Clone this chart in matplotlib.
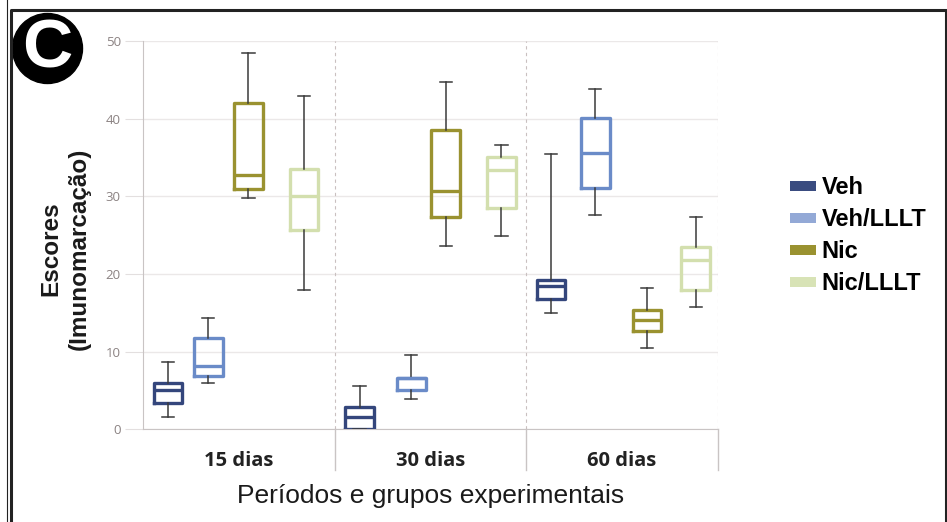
import matplotlib.pyplot as plt
from matplotlib.lines import Line2D
from matplotlib.patches import Patch, Circle

# dados: [mín, Q1, mediana, Q3, máx]
periodos = ['15 dias', '30 dias', '60 dias']
grupos = ['Veh', 'Veh/LLLT', 'Nic', 'Nic/LLLT']

veh = [[1.5, 3.3, 5.0, 5.9, 8.7],
       [0.0, 0.0, 1.5, 2.8, 5.5],
       [15.0, 16.8, 18.5, 19.2, 35.4]]
veh_lllt = [[5.9, 6.8, 8.1, 11.7, 14.3],
            [3.9, 5.0, 6.6, 6.6, 9.5],
            [27.6, 31.1, 35.6, 40.1, 43.8]]
nic = [[29.8, 30.9, 32.8, 42.1, 48.5],
       [23.6, 27.3, 30.7, 38.5, 44.7],
       [10.4, 12.7, 14.0, 15.4, 18.2]]
nic_lllt = [[17.9, 25.7, 30.0, 33.5, 43.0],
            [24.9, 28.5, 33.4, 35.1, 36.6],
            [15.7, 17.9, 21.8, 23.5, 27.3]]

cores = ['#34467c', '#6a8bc8', '#9a9230', '#d3dfae']
cores_leg = ['#3a4c80', '#93a9d6', '#9a9230', '#d8e3b6']

# posição de cada caixa dentro do período (desenho original não é regular)
desloc = [[0.13, 0.34, 0.55, 0.84],
          [0.13, 0.40, 0.58, 0.87],
          [0.13, 0.36, 0.63, 0.885]]

fig = plt.figure(figsize=(9.47, 5.22), dpi=100)
ax = fig.add_axes([0.151, 0.178, 0.607, 0.743])

series = [veh, veh_lllt, nic, nic_lllt]
for g, (dados, cor) in enumerate(zip(series, cores)):
    stats = []
    pos = []
    for p in range(len(periodos)):
        lo, q1, med, q3, hi = dados[p]
        stats.append(dict(whislo=lo, q1=q1, med=med, q3=q3, whishi=hi, fliers=[]))
        pos.append(p + desloc[p][g])
    ax.bxp(stats, positions=pos, widths=0.15, capwidths=0.065, showfliers=False,
           boxprops=dict(color=cor, linewidth=2.4),
           medianprops=dict(color=cor, linewidth=2.4),
           whiskerprops=dict(color='#3a3a3a', linewidth=1.1),
           capprops=dict(color='#3a3a3a', linewidth=1.1),
           manage_ticks=False, zorder=3)

ax.set_xlim(0, 3)
ax.set_ylim(0, 50)
ax.set_yticks([0, 10, 20, 30, 40, 50])
ax.yaxis.grid(True, color='#ebe8e8', linewidth=1)
ax.set_axisbelow(True)
for x in [1, 2, 3]:
    ax.axvline(x, color='#c9c0c0', linewidth=0.8, linestyle=(0, (3, 3)), zorder=1)
    ax.plot([x, x], [0, -0.105], color='#c9c4c4', linewidth=1,
            transform=ax.get_xaxis_transform(), clip_on=False)

for s in ['top', 'right']:
    ax.spines[s].set_visible(False)
ax.spines['left'].set_color('#c9c4c4')
ax.spines['bottom'].set_color('#c9c4c4')
ax.tick_params(axis='y', length=13, color='#e3dfdf', labelcolor='#8b8282',
               labelsize=9.5, pad=3)
ax.set_xticks([0.5, 1.5, 2.5])
ax.set_xticklabels(periodos, fontsize=14.5, fontweight='bold', family='Open Sans',
                   color='#222222')
ax.tick_params(axis='x', length=0, pad=16)
for lab in ax.get_yticklabels():
    lab.set_family('Open Sans')

ax.set_xlabel('Períodos e grupos experimentais', fontsize=19,
              family='Liberation Sans', color='#1a1a1a', labelpad=9)
fig.text(0.069, 0.524, 'Escores\n(Imunomarcação)', rotation=90, ha='center',
         va='center', multialignment='center', fontsize=17.5, fontweight='bold',
         family='Liberation Sans', linespacing=1.3, color='#1a1a1a')

handles = [Patch(facecolor=c, edgecolor='none') for c in cores_leg]
fig.legend(handles, grupos, loc='upper left', bbox_to_anchor=(0.834, 0.662),
           frameon=False, prop=dict(family='Liberation Sans', weight='bold', size=17),
           handlelength=1.1, handleheight=0.3, handletextpad=0.25,
           labelspacing=0.38, borderpad=0, borderaxespad=0)

# selo "C" (em polegadas para ficar redondo)
fig.add_artist(Circle((0.475, 5.22 - 0.485), 0.35, color='black',
                      transform=fig.dpi_scale_trans))
fig.text(47.5 / 947, 1 - 50 / 522, 'C', ha='center', va='center', color='white',
         fontsize=50, fontweight='bold', family='Liberation Sans')

# moldura
fig.add_artist(Line2D([0.0069, 0.0069], [0, 1], color='#222222', linewidth=0.8,
                      transform=fig.transFigure))
fig.add_artist(Line2D([0.0111, 0.0111, 0.9985, 0.9985], [0, 0.980, 0.980, 0],
                      color='#222222', linewidth=2.2, transform=fig.transFigure))

fig.savefig('out.png', dpi=100)
